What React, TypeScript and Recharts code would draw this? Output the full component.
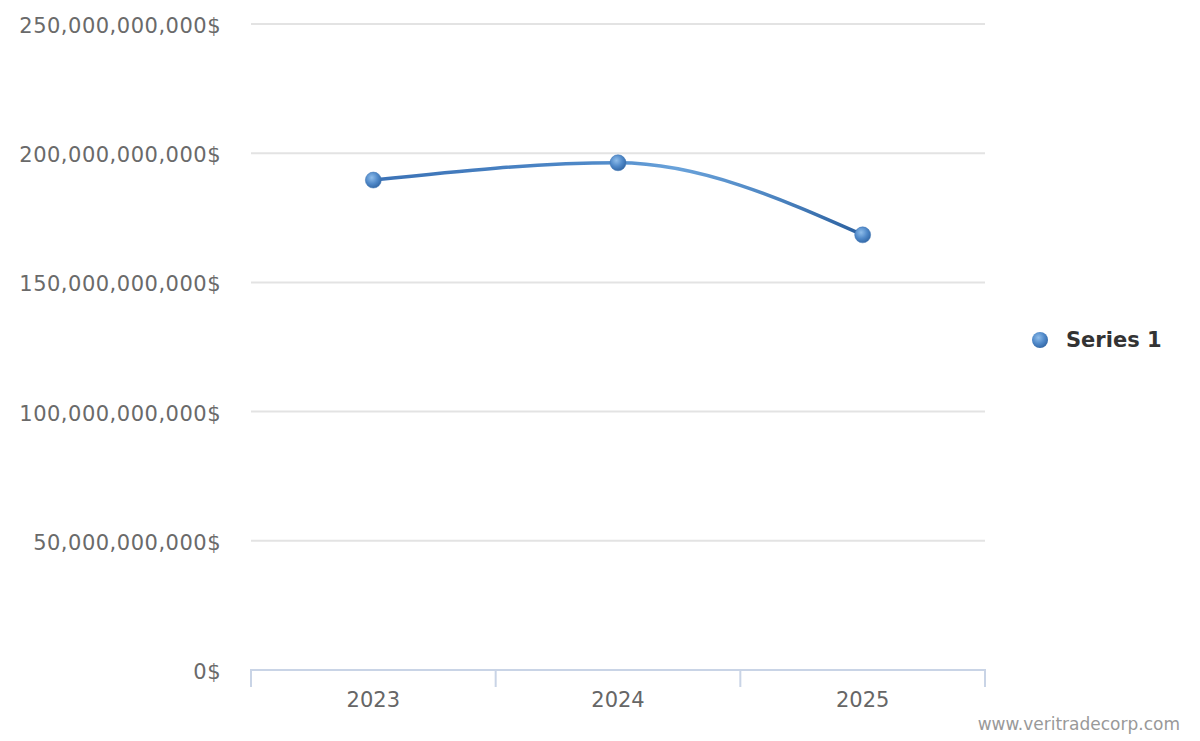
import React from "react";
import { LineChart, Line, XAxis, YAxis, CartesianGrid, Legend } from "recharts";

const years = ["2023", "2024", "2025"];
const series1 = [189.6e9, 196.3e9, 168.4e9];
const yTicks = [0, 50e9, 100e9, 150e9, 200e9, 250e9];
const seriesName = "Series 1";

const data = years.map((y, i) => ({ year: y, v: series1[i] }));

const fmt = (v: number) => v.toLocaleString("en-US") + "$";

const FONT = "'DejaVu Sans', 'Lucida Grande', sans-serif";

const XTick = (props: any) => {
  const { x, y, payload, width, visibleTicksCount, index } = props;
  const band = width / visibleTicksCount;
  const left = x - band / 2;
  return (
    <g>
      <line x1={left} y1={y - 9} x2={left} y2={y + 9} stroke="#c9d4e6" strokeWidth={2} />
      {index === visibleTicksCount - 1 && (
        <line x1={left + band} y1={y - 9} x2={left + band} y2={y + 9} stroke="#c9d4e6" strokeWidth={2} />
      )}
      <text x={x} y={y + 29} textAnchor="middle" fill="#666" fontSize={21} fontFamily={FONT}>
        {payload.value}
      </text>
    </g>
  );
};

const YTick = (props: any) => {
  const { x, y, payload } = props;
  return (
    <text
      x={x}
      y={y + 9}
      textAnchor="end"
      fill="#6a6a6a"
      fontSize={21}
      fontFamily={FONT}
      letterSpacing={0.5}
    >
      {fmt(payload.value)}
    </text>
  );
};

const Dot = (props: any) => {
  const { cx, cy } = props;
  if (cx == null || cy == null) return null;
  return <circle cx={cx} cy={cy} r={8} fill="url(#ballGrad)" stroke="#3f74b2" strokeWidth={0.5} />;
};

const LegendContent = () => (
  <div style={{ display: "flex", alignItems: "center", fontFamily: FONT }}>
    <svg width={18} height={18} style={{ marginRight: 17 }}>
      <defs>
        <radialGradient id="ballGradL" cx="40%" cy="35%" r="65%">
          <stop offset="0%" stopColor="#8fbdea" />
          <stop offset="60%" stopColor="#4f88c8" />
          <stop offset="100%" stopColor="#356aa8" />
        </radialGradient>
      </defs>
      <circle cx={9} cy={9} r={8} fill="url(#ballGradL)" />
    </svg>
    <span style={{ fontSize: 21, fontWeight: "bold", color: "#333" }}>{seriesName}</span>
  </div>
);

export default function App() {
  return (
    <div style={{ position: "absolute", left: 0, top: 0, width: 1200, height: 741, background: "#fff" }}>
      <LineChart
        width={1200}
        height={741}
        data={data}
        margin={{ top: 24, right: 215, bottom: 31, left: 0 }}
      >
        <defs>
          <linearGradient id="lineGrad" x1="0" y1="0" x2="1" y2="0">
            <stop offset="0%" stopColor="#3b72b6" />
            <stop offset="45%" stopColor="#4f89c8" />
            <stop offset="62%" stopColor="#69a2da" />
            <stop offset="80%" stopColor="#5088c4" />
            <stop offset="100%" stopColor="#2a5f9e" />
          </linearGradient>
          <radialGradient id="ballGrad" cx="40%" cy="35%" r="65%">
            <stop offset="0%" stopColor="#8fbdea" />
            <stop offset="60%" stopColor="#4f88c8" />
            <stop offset="100%" stopColor="#356aa8" />
          </radialGradient>
        </defs>
        <CartesianGrid horizontal={true} vertical={false} stroke="#e3e3e3" strokeWidth={2} />
        <XAxis
          dataKey="year"
          scale="band"
          height={40}
          axisLine={{ stroke: "#c9d4e6", strokeWidth: 2 }}
          tickLine={false}
          tick={<XTick />}
          interval={0}
        />
        <YAxis
          width={251}
          domain={[0, 250e9]}
          ticks={yTicks}
          axisLine={false}
          tickLine={false}
          tickSize={0}
          tickMargin={30}
          tick={<YTick />}
        />
        <Legend
          layout="horizontal"
          verticalAlign="middle"
          align="center"
          content={<LegendContent />}
          wrapperStyle={{ position: "absolute", left: 1031, top: 328, width: 160 }}
        />
        <Line
          type="monotone"
          dataKey="v"
          name={seriesName}
          stroke="url(#lineGrad)"
          strokeWidth={3.5}
          dot={<Dot />}
          activeDot={false}
          isAnimationActive={false}
        />
      </LineChart>
      <div
        style={{
          position: "absolute",
          right: 20,
          top: 714,
          fontFamily: FONT,
          fontSize: 17,
          color: "#999",
        }}
      >
        www.veritradecorp.com
      </div>
    </div>
  );
}
